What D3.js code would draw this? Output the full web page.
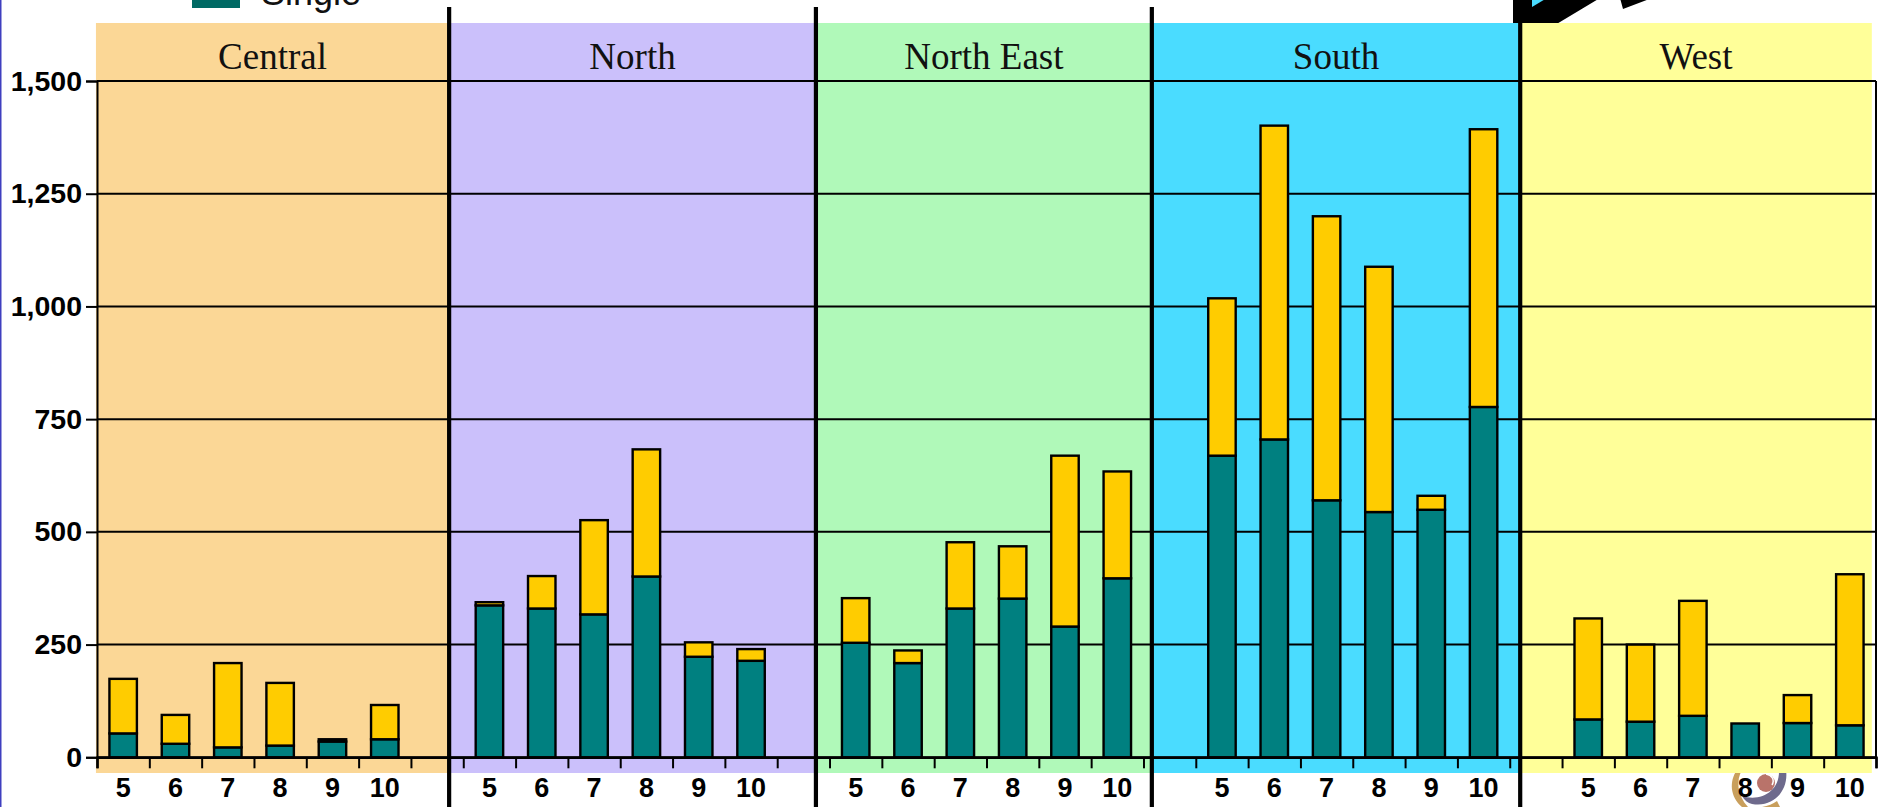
<!DOCTYPE html>
<html>
<head>
<meta charset="utf-8">
<script src="https://cdn.jsdelivr.net/npm/d3@7"></script>
<style>
  html, body { margin: 0; padding: 0; background: #fff; overflow: hidden; }
  svg { display: block; }
</style>
</head>
<body>
<script>
// Regions and the months shown inside each one
const regions = ["Central", "North", "North East", "South", "West"];
const months = [5, 6, 7, 8, 9, 10];

// Stacked series per region, month by month
const singleValues = {
  "Central":    [53, 30, 22, 26, 35, 40],
  "North":      [337, 330, 317, 401, 223, 214],
  "North East": [254, 209, 330, 352, 290, 397],
  "South":      [669, 705, 570, 544, 549, 777],
  "West":       [84, 79, 92, 75, 76, 71]
};
const otherValues = {
  "Central":    [121, 64, 187, 139, 5, 76],
  "North":      [7, 72, 209, 282, 32, 26],
  "North East": [99, 28, 147, 116, 379, 237],
  "South":      [349, 696, 630, 544, 31, 616],
  "West":       [224, 171, 255, 0, 62, 335]
};

const yTicks = [0, 250, 500, 750, 1000, 1250, 1500];
const bandColors = ["#fbd796", "#cbc0fb", "#b0f9b9", "#4adcff", "#ffff99"];
const seriesColors = { single: "#008080", other: "#ffcc00" };

// Panel boundaries measured in month slots along the x axis
const panelBreaks = [-0.02, 6.73, 13.74, 20.16, 27.2, 33.92];

const W = 1885, H = 807;
const plot = { left: 97, right: 1876, top: 81, bottom: 757.3, bandTop: 23, bandBottom: 773 };

const svg = d3.select("body").append("svg").attr("width", W).attr("height", H);
svg.append("rect").attr("width", W).attr("height", H).attr("fill", "#fff");

// Each region takes six slots, with one empty slot between neighbouring regions
const slotKeys = [];
regions.forEach((r, i) => {
  months.forEach(m => slotKeys.push(r + "|" + m));
  if (i < regions.length - 1) slotKeys.push("gap|" + i);
});

const xBand = d3.scaleBand().domain(slotKeys).range([plot.left, plot.right]);
const xSlot = d3.scaleLinear().domain([0, slotKeys.length]).range([plot.left, plot.right]);
const y = d3.scaleLinear().domain([0, 1500]).range([plot.bottom, plot.top]);

// Page edge rule
svg.append("rect").attr("x", 0).attr("y", 0).attr("width", 1.5).attr("height", H).attr("fill", "#3f3fbf");

// Legend entry and the page artwork around the chart
svg.append("rect").attr("x", 192).attr("y", -10).attr("width", 48).attr("height", 18).attr("fill", "#006a64");
svg.append("text").attr("x", 261).attr("y", 5)
  .attr("font-family", "Liberation Sans").attr("font-size", 36).attr("fill", "#111").text("Single");

const art = svg.append("g");
art.append("path").attr("fill", "#000")
  .attr("d", "M1513,25 L1513,-2 L1620,-2 L1623,9 L1652,-2 L1600,-2 L1580,10 L1555,25 Z");
art.append("path").attr("fill", "#4adcff").attr("d", "M1532,7 L1532,-2 L1547,-2 Z");
art.append("circle").attr("cx", 1766).attr("cy", 783).attr("r", 9).attr("fill", "#b9736a");
art.append("path").attr("fill", "none").attr("stroke", "#fff").attr("stroke-width", 1.5)
  .attr("d", "M1766,774 C1772,775 1775,780 1772,785");
art.append("path").attr("fill", "#6e6a8c")
  .attr("d", "M1779,770 L1786,770 C1789,790 1774,808 1752,804 C1748,803 1744,800 1742,796 C1760,802 1780,792 1779,770 Z");
art.append("path").attr("fill", "#c99f5c")
  .attr("d", "M1737,770 L1742,770 C1736,780 1737,795 1748,807 L1742,807 C1730,797 1729,781 1737,770 Z");
art.append("path").attr("fill", "#c99f5c").attr("d", "M1762,807 C1768,806 1773,804 1777,801 L1780,807 Z");

// Coloured region panels
svg.append("g").selectAll("rect").data(regions).join("rect")
  .attr("x", (d, i) => xSlot(panelBreaks[i]))
  .attr("width", (d, i) => xSlot(panelBreaks[i + 1]) - xSlot(panelBreaks[i]))
  .attr("y", plot.bandTop)
  .attr("height", plot.bandBottom - plot.bandTop)
  .attr("fill", (d, i) => bandColors[i]);

// Horizontal gridlines
svg.append("g").selectAll("line").data(yTicks).join("line")
  .attr("x1", plot.left).attr("x2", plot.right)
  .attr("y1", d => y(d)).attr("y2", d => y(d))
  .attr("stroke", "#000").attr("stroke-width", 2);

// Stacked bars
const rows = [];
regions.forEach(r => months.forEach((m, i) => rows.push({
  key: r + "|" + m, single: singleValues[r][i], other: otherValues[r][i]
})));
const stacked = d3.stack().keys(["single", "other"])(rows);
const barWidth = xBand.bandwidth() * 0.525;

svg.append("g").selectAll("g").data(stacked).join("g")
  .attr("fill", s => seriesColors[s.key])
  .selectAll("rect").data(s => s.filter(p => p[1] > p[0])).join("rect")
  .attr("x", p => xBand(p.data.key) + (xBand.bandwidth() - barWidth) / 2)
  .attr("width", barWidth)
  .attr("y", p => y(p[1]))
  .attr("height", p => y(p[0]) - y(p[1]))
  .attr("stroke", "#000").attr("stroke-width", 2.4);

// Y axis with the thousands-separated labels
const yAxis = svg.append("g").attr("transform", `translate(${plot.left},0)`)
  .call(d3.axisLeft(y).tickValues(yTicks).tickSize(11).tickPadding(4).tickFormat(d3.format(",")));
yAxis.selectAll("path, line").attr("stroke", "#000").attr("stroke-width", 2);
yAxis.selectAll("text").attr("font-family", "Liberation Sans").attr("font-weight", "bold")
  .attr("font-size", 28.5).attr("fill", "#000");

// Right-hand frame
svg.append("line").attr("x1", plot.right).attr("x2", plot.right)
  .attr("y1", plot.top).attr("y2", plot.bottom)
  .attr("stroke", "#000").attr("stroke-width", 2);

// X axis: ticks on the slot edges
const xTickAxis = svg.append("g").attr("transform", `translate(0,${plot.bottom})`)
  .call(d3.axisBottom(xSlot).tickValues(d3.range(slotKeys.length + 1)).tickSize(11).tickFormat(""));
xTickAxis.select(".domain").attr("stroke", "#000").attr("stroke-width", 2.5);
xTickAxis.selectAll("line").attr("stroke", "#000").attr("stroke-width", 2);

// X axis: month numbers centred in their slots
const xLabelAxis = svg.append("g").attr("transform", `translate(0,${plot.bottom})`)
  .call(d3.axisBottom(xBand).tickSize(0).tickPadding(21)
    .tickFormat(k => k.startsWith("gap") ? "" : k.split("|")[1]));
xLabelAxis.select(".domain").remove();
xLabelAxis.selectAll("text").attr("font-family", "Liberation Sans").attr("font-weight", "bold")
  .attr("font-size", 27).attr("fill", "#000");

// Region titles
svg.append("g").selectAll("text").data(regions).join("text")
  .attr("x", (d, i) => xSlot((panelBreaks[i] + panelBreaks[i + 1]) / 2))
  .attr("y", 69)
  .attr("text-anchor", "middle")
  .attr("font-family", "Liberation Serif").attr("font-size", 37).attr("fill", "#111")
  .text(d => d);

// Heavy separators between regions
svg.append("g").selectAll("line").data(panelBreaks.slice(1, -1)).join("line")
  .attr("x1", d => xSlot(d)).attr("x2", d => xSlot(d))
  .attr("y1", 7).attr("y2", H)
  .attr("stroke", "#000").attr("stroke-width", 4.2);
</script>
</body>
</html>
